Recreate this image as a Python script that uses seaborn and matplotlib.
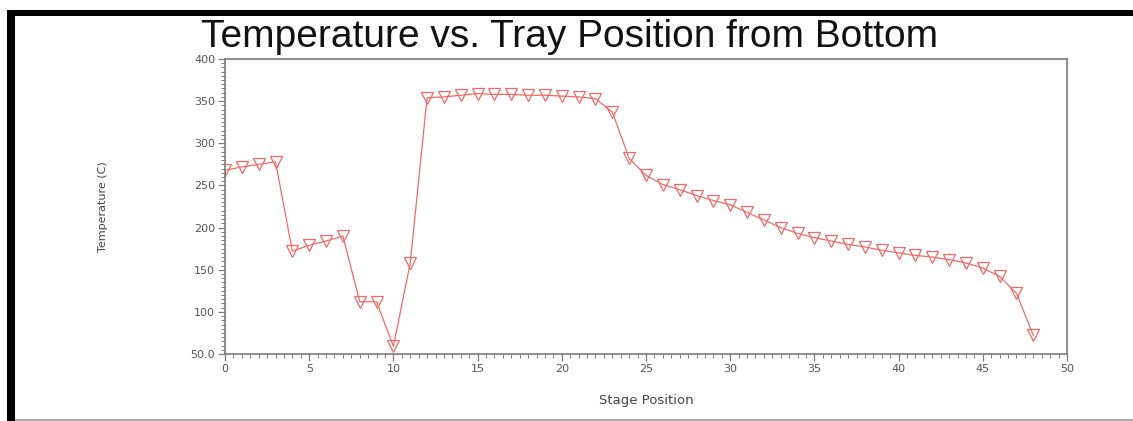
import matplotlib
matplotlib.use("Agg")
import matplotlib.pyplot as plt
from matplotlib.lines import Line2D
from matplotlib.ticker import MultipleLocator, FixedLocator, FixedFormatter
import seaborn as sns
import pandas as pd

# Column temperature profile, one value per stage counted from the bottom
stages = list(range(49))
temperatures = [
    268, 272, 275, 278, 172, 179, 184, 190, 112, 112,
    59, 158, 354, 355, 357, 359, 358, 358, 357, 357,
    356, 355, 353, 337, 282, 262, 251, 245, 238, 232,
    227, 218, 209, 200, 193, 188, 184, 180, 177, 173,
    170, 167, 165, 162, 158, 152, 142, 122, 72,
]
x_ticks = [0, 5, 10, 15, 20, 25, 30, 35, 40, 45, 50]
y_ticks = [50, 100, 150, 200, 250, 300, 350, 400]
y_tick_labels = ["50.0", "100", "150", "200", "250", "300", "350", "400"]

title = "Temperature vs. Tray Position from Bottom"
x_label = "Stage Position"
y_label = "Temperature (C)"

sns.set_style("white")
plt.rcParams["font.family"] = ["DejaVu Sans"]

W, H = 1133, 421
fig = plt.figure(figsize=(W / 100, H / 100), dpi=100)
fig.patch.set_facecolor("white")

ax = fig.add_axes([225 / W, (H - 354) / H, (1067 - 225) / W, (354 - 59) / H])

df = pd.DataFrame({"stage": stages, "temp": temperatures})
red = "#ee6a6a"
sns.lineplot(data=df, x="stage", y="temp", ax=ax, color=red, linewidth=0.9,
             marker="v", markersize=8.5, markerfacecolor="none",
             markeredgecolor=red, markeredgewidth=0.9)

ax.set_xlim(0, 50)
ax.set_ylim(50, 400)
ax.xaxis.set_major_locator(FixedLocator(x_ticks))
ax.xaxis.set_minor_locator(MultipleLocator(0.5))
ax.yaxis.set_major_locator(FixedLocator(y_ticks))
ax.yaxis.set_major_formatter(FixedFormatter(y_tick_labels))
ax.yaxis.set_minor_locator(MultipleLocator(5))

spine_col = "#7a7a7a"
for s in ax.spines.values():
    s.set_color(spine_col)
    s.set_linewidth(1.2)

ax.tick_params(which="major", direction="out", length=5, width=0.9,
               color=spine_col, labelsize=8, labelcolor="#555555",
               bottom=True, left=True, top=False, right=False, pad=2)
ax.tick_params(which="minor", direction="out", length=3, width=0.7,
               color=spine_col, bottom=True, left=True, top=False, right=False)

ax.set_xlabel(x_label, fontsize=9.5, color="#444444")
ax.set_ylabel(y_label, fontsize=8, color="#444444")
ax.xaxis.set_label_coords(0.5, -0.135)
ax.yaxis.set_label_coords(-0.139, 0.5)

fig.text(570 / W, 1 - 47 / H, title, ha="center", va="baseline",
         fontsize=28, family=["Liberation Sans", "DejaVu Sans"], color="#111111")

# Frame around the chart
fig.add_artist(Line2D([7 / W, 1], [1 - 13 / H, 1 - 13 / H], transform=fig.transFigure,
                      color="black", linewidth=4.3, solid_capstyle="butt"))
fig.add_artist(Line2D([11 / W, 11 / W], [0, 1 - 10 / H], transform=fig.transFigure,
                      color="black", linewidth=5.8, solid_capstyle="butt"))
fig.add_artist(Line2D([15 / W, 1], [1.5 / H, 1.5 / H], transform=fig.transFigure,
                      color="#9a9a9a", linewidth=1.2, solid_capstyle="butt"))

fig.savefig("out.png", dpi=100)
